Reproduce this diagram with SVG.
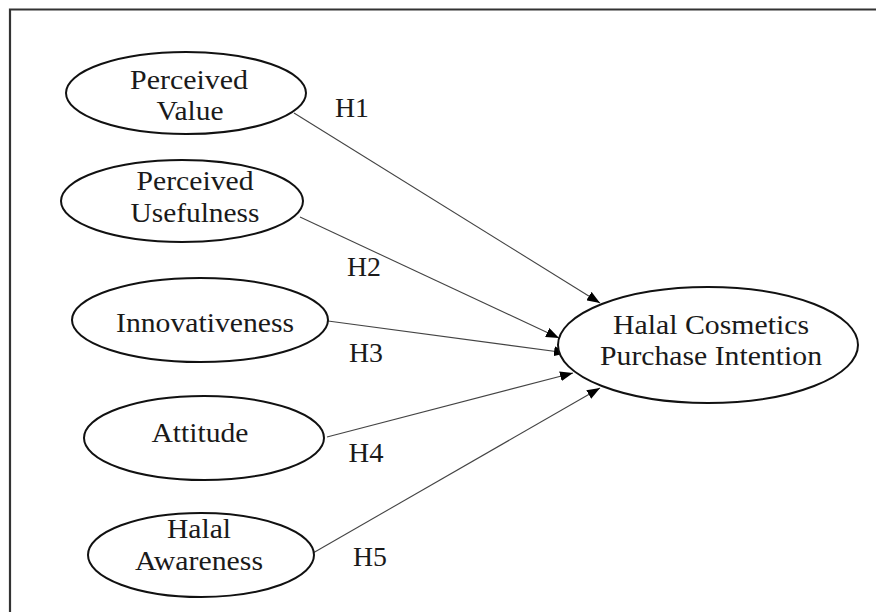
<svg xmlns="http://www.w3.org/2000/svg" width="876" height="612" viewBox="0 0 876 612">
<style>
.node ellipse{fill:#fff;stroke:#111;stroke-width:2}
text{font-family:"Liberation Serif","Times New Roman",serif;font-size:28px;fill:#1a1a1a;text-anchor:middle}
.lbl{font-size:27px}
.edge{stroke:#444;stroke-width:1.1;fill:none;marker-end:url(#ah)}
</style>
<defs>
<marker id="ah" markerUnits="userSpaceOnUse" markerWidth="14" markerHeight="10" refX="13" refY="5" orient="auto">
<path d="M0,0 L13,5 L0,10 z" fill="#000"/>
</marker>
</defs>
<rect width="876" height="612" fill="#fff"/>
<path d="M10,612 V9.5 H876" fill="none" stroke="#333" stroke-width="2.2"/>
<g id="connectors">
<line class="edge" x1="294" y1="113" x2="600" y2="303"/>
<line class="edge" x1="300" y1="217" x2="559" y2="338"/>
<line class="edge" x1="328" y1="321" x2="567" y2="353"/>
<line class="edge" x1="327" y1="437" x2="573" y2="373"/>
<line class="edge" x1="313" y1="553" x2="600" y2="388"/>
</g>
<g id="labels">
<text class="lbl" x="352" y="117" textLength="34" lengthAdjust="spacingAndGlyphs">H1</text>
<text class="lbl" x="364" y="276" textLength="34" lengthAdjust="spacingAndGlyphs">H2</text>
<text class="lbl" x="366" y="362" textLength="34" lengthAdjust="spacingAndGlyphs">H3</text>
<text class="lbl" x="366" y="462" textLength="35" lengthAdjust="spacingAndGlyphs">H4</text>
<text class="lbl" x="370" y="566" textLength="34" lengthAdjust="spacingAndGlyphs">H5</text>
</g>
<g id="perceived-value" class="node">
<ellipse cx="186" cy="93" rx="120" ry="41"/>
<text x="189" y="89" textLength="118" lengthAdjust="spacingAndGlyphs">Perceived</text>
<text x="190" y="120" textLength="67" lengthAdjust="spacingAndGlyphs">Value</text>
</g>
<g id="perceived-usefulness" class="node">
<ellipse cx="182" cy="201" rx="121" ry="41"/>
<text x="195" y="190" textLength="117" lengthAdjust="spacingAndGlyphs">Perceived</text>
<text x="195" y="222" textLength="129" lengthAdjust="spacingAndGlyphs">Usefulness</text>
</g>
<g id="innovativeness" class="node">
<ellipse cx="200" cy="320" rx="128" ry="42"/>
<text x="205" y="332" textLength="178" lengthAdjust="spacingAndGlyphs">Innovativeness</text>
</g>
<g id="attitude" class="node">
<ellipse cx="204" cy="438" rx="120" ry="42"/>
<text x="200" y="442" textLength="97" lengthAdjust="spacingAndGlyphs">Attitude</text>
</g>
<g id="halal-awareness" class="node">
<ellipse cx="201" cy="555" rx="113" ry="42"/>
<text x="199" y="538" textLength="64" lengthAdjust="spacingAndGlyphs">Halal</text>
<text x="199" y="570" textLength="128" lengthAdjust="spacingAndGlyphs">Awareness</text>
</g>
<g id="purchase-intention" class="node">
<ellipse cx="708" cy="345" rx="150" ry="58"/>
<text x="711" y="334" textLength="196" lengthAdjust="spacingAndGlyphs">Halal Cosmetics</text>
<text x="711" y="365" textLength="222" lengthAdjust="spacingAndGlyphs">Purchase Intention</text>
</g>
</svg>
